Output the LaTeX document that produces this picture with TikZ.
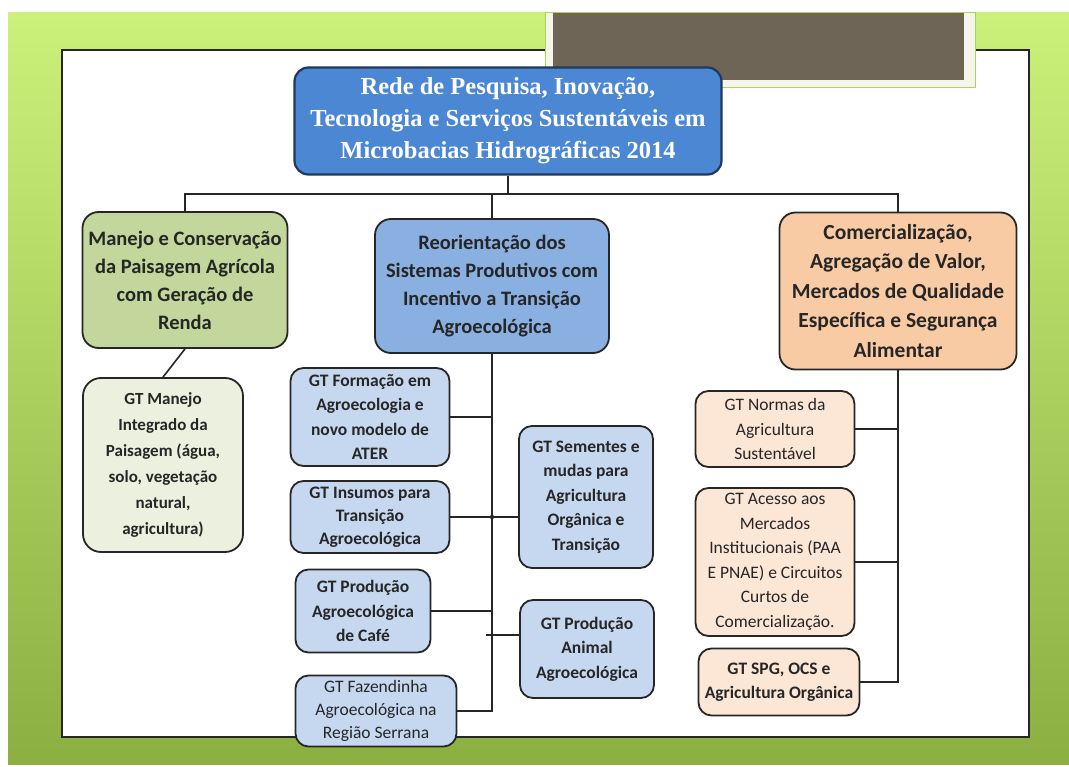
\documentclass[tikz,border=0pt]{standalone}
\usepackage{fontspec}
\setmainfont{Carlito}
\newfontfamily\titlefont{Liberation Serif}
\usepackage{tikz}
\definecolor{limetop}{HTML}{CBF17A}
\definecolor{limemid}{HTML}{ABD655}
\definecolor{limebot}{HTML}{8CAF42}
\definecolor{frame}{HTML}{F4F6EC}
\definecolor{brownbox}{HTML}{6E6557}
\definecolor{navy}{HTML}{1F3A5C}
\definecolor{titleblue}{HTML}{4B87D3}
\definecolor{olive}{HTML}{C3D69B}
\definecolor{skyblue}{HTML}{8AB0E2}
\definecolor{peach}{HTML}{F9CBA5}
\definecolor{palegreen}{HTML}{EBF1DE}
\definecolor{paleblue}{HTML}{C6D8F0}
\definecolor{palepeach}{HTML}{FCE6D6}
\definecolor{ink}{HTML}{262626}

\begin{document}
\begin{tikzpicture}[
  x=1pt,y=-1pt,
  box/.style={draw=ink,line width=1.8pt,rounded corners=16pt,align=center,inner sep=0pt,text=ink},
  head/.style={box,font=\fontsize{20.5}{28}\selectfont\bfseries},
  gt/.style={box,rounded corners=13pt,font=\fontsize{17.5}{24.5}\selectfont\bfseries},
  gtthin/.style={gt,font=\fontsize{17.5}{24.5}\selectfont},
  lnk/.style={draw=ink,line width=1.6pt},
]
\useasboundingbox (0,0) rectangle (1069,767);

% background
\fill[white] (0,0) rectangle (1069,767);
\shade[top color=limetop,middle color=limemid,bottom color=limebot] (8,13) rectangle (1069,764);
\filldraw[fill=white,draw=black!85,line width=1.6pt] (62,50) rectangle (1029,737);
\filldraw[fill=frame,draw=limemid,line width=1pt] (545,13) rectangle (975,88);
\fill[brownbox] (553,13) rectangle (964,80);

% top level
\node[box,draw=navy,line width=2.2pt,rounded corners=14pt,fill=titleblue,text=white,
  minimum width=427pt,minimum height=107pt,
  font=\titlefont\fontsize{24.5}{32}\selectfont\bfseries] (title) at (508,121)
  {Rede de Pesquisa, Inovação,\\Tecnologia e Serviços Sustentáveis em\\Microbacias Hidrográficas 2014};

\node[head,fill=olive,minimum width=205pt,minimum height=136pt] (manejo) at (185,280)
  {Manejo e Conservação\\da Paisagem Agrícola\\com Geração de\\Renda};
\node[head,fill=skyblue,minimum width=234pt,minimum height=134pt] (reor) at (492,286)
  {Reorientação dos\\Sistemas Produtivos com\\Incentivo a Transição\\Agroecológica};
\node[head,fill=peach,minimum width=237pt,minimum height=157pt,
  font=\fontsize{21.5}{29.5}\selectfont\bfseries] (comer) at (898,291)
  {Comercialização,\\Agregação de Valor,\\Mercados de Qualidade\\Específica e Segurança\\Alimentar};

% grupos de trabalho
\node[gt,fill=palegreen,minimum width=160pt,minimum height=174pt,rounded corners=18pt,
  font=\fontsize{17}{26}\selectfont\bfseries] (gtmanejo) at (163,465)
  {GT Manejo\\Integrado da\\Paisagem (água,\\solo, vegetação\\natural,\\agricultura)};

\node[gt,fill=paleblue,minimum width=159pt,minimum height=98pt] (formacao) at (370,417)
  {GT Formação em\\Agroecologia e\\novo modelo de\\ATER};
\node[gt,fill=paleblue,minimum width=159pt,minimum height=72pt,
  font=\fontsize{17.5}{23}\selectfont\bfseries] (insumos) at (370,517)
  {GT Insumos para\\Transição\\Agroecológica};
\node[gt,fill=paleblue,minimum width=135pt,minimum height=83pt] (cafe) at (363,611)
  {GT Produção\\Agroecológica\\de Café};
\node[gtthin,fill=paleblue,minimum width=161pt,minimum height=71pt,
  font=\fontsize{17.5}{23}\selectfont] (fazend) at (376,711)
  {GT Fazendinha\\Agroecológica na\\Região Serrana};
\node[gt,fill=paleblue,minimum width=134pt,minimum height=142pt] (sementes) at (586,497)
  {GT Sementes e\\mudas para\\Agricultura\\Orgânica e\\Transição};
\node[gt,fill=paleblue,minimum width=134pt,minimum height=98pt] (animal) at (587,649)
  {GT Produção\\Animal\\Agroecológica};

\node[gtthin,fill=palepeach,minimum width=159pt,minimum height=76pt] (normas) at (775,429)
  {GT Normas da\\Agricultura\\Sustentável};
\node[gtthin,fill=palepeach,minimum width=159pt,minimum height=148pt] (acesso) at (775,562)
  {GT Acesso aos\\Mercados\\Institucionais (PAA\\E PNAE) e Circuitos\\Curtos de\\Comercialização.};
\node[gt,fill=palepeach,minimum width=161pt,minimum height=67pt] (spg) at (779,682)
  {GT SPG, OCS e\\Agricultura Orgânica};

% ligacoes
\coordinate (bus) at (508,194);
\draw[lnk] (title.south) -- (bus);
\draw[lnk] (manejo.north) |- (bus) -| (comer.north);
\draw[lnk] (bus -| reor.north) -- (reor.north);
\draw[lnk] (manejo.south) -- (gtmanejo.north);

\draw[lnk] (reor.south) -- (reor.south |- fazend.east) -- (fazend.east);
\draw[lnk] (formacao.east) -- (formacao.east -| reor.south);
\draw[lnk] (insumos.east) -- (insumos.east -| sementes.west);
\fill[ink] (insumos.east -| reor.south) circle (2.2pt);
\draw[lnk] (cafe.east) -- (cafe.east -| reor.south);
\draw[lnk] ([yshift=14pt]animal.west) -- ++(-33,0);

\draw[lnk] (comer.south) -- (comer.south |- spg.east) -- (spg.east);
\draw[lnk] (normas.east) -- (normas.east -| comer.south);
\draw[lnk] (acesso.east) -- (acesso.east -| comer.south);
\end{tikzpicture}
\end{document}
